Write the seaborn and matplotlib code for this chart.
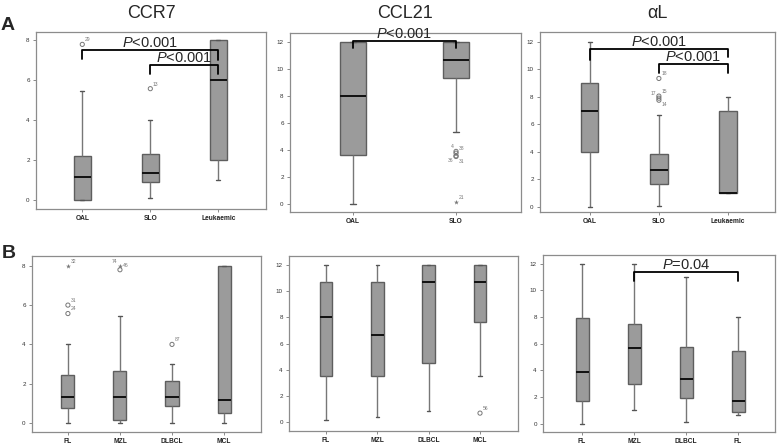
import numpy as np
import pandas as pd
import seaborn as sns
import matplotlib.pyplot as plt

sns.set_style('white')
plt.rcParams['font.family'] = ['Liberation Sans', 'DejaVu Sans']
plt.rcParams['mathtext.fontset'] = 'custom'
plt.rcParams['mathtext.rm'] = 'Liberation Sans'
plt.rcParams['mathtext.it'] = 'Liberation Sans:italic'

# five-number summaries: whisker low, Q1, median, Q3, whisker high
top_cats = ['OAL', 'SLO', 'Leukaemic']
ccr7_top = [[0, 0, 1.13, 2.22, 5.45], [0.12, 0.88, 1.35, 2.3, 4.0], [1.0, 2.0, 6.0, 8.0, 8.0]]
ccl21_cats = ['OAL', 'SLO']
ccl21_top = [[0, 3.6, 8.0, 12, 12], [5.3, 9.33, 10.67, 12, 12]]
al_top = [[0, 4.0, 7.0, 9.0, 12], [0.1, 1.67, 2.67, 3.88, 6.67], [1.0, 1.0, 1.0, 7.0, 8.0]]

bot_cats = ['FL', 'MZL', 'DLBCL', 'MCL']
ccr7_bot = [[0, 0.78, 1.33, 2.42, 4.0], [0, 0.15, 1.33, 2.67, 5.45],
            [0, 0.88, 1.33, 2.12, 3.0], [0, 0.5, 1.15, 8.0, 8.0]]
ccl21_bot = [[0.2, 3.5, 8.0, 10.67, 12], [0.4, 3.5, 6.67, 10.67, 12],
             [0.85, 4.5, 10.67, 12, 12], [3.5, 7.67, 10.67, 12, 12]]
al_cats = ['FL', 'MZL', 'DLBCL', 'FL ']
al_bot = [[0, 1.67, 3.88, 7.9, 12], [1.0, 3.0, 5.67, 7.5, 12],
          [0.1, 1.9, 3.33, 5.75, 11.0], [0.67, 0.9, 1.67, 5.45, 8.0]]

# outliers: (category, value, case label, marker)
ccr7_top_out = [('OAL', 7.8, '29', 'o'), ('SLO', 5.58, '13', 'o')]
ccl21_top_out = [('SLO', 3.88, '4', 'o'), ('SLO', 3.75, '38', 'o'), ('SLO', 3.55, '36', 'o'),
                 ('SLO', 3.5, '31', 'o'), ('SLO', 0.15, '21', '*')]
al_top_out = [('SLO', 9.33, '18', 'o'), ('SLO', 8.05, '15', 'o'), ('SLO', 7.9, '17', 'o'),
              ('SLO', 7.75, '14', 'o')]
ccr7_bot_out = [('FL', 8.0, '32', '*'), ('FL', 6.0, '31', 'o'), ('FL', 5.57, '24', 'o'),
                ('MZL', 8.0, '74', '*'), ('MZL', 7.8, '46', 'o'), ('DLBCL', 4.0, '87', 'o')]
ccl21_bot_out = [('MCL', 0.7, '56', 'o')]
al_bot_out = []

# where the case labels sit relative to their point (category, label)
left_labels = {('SLO', '4'), ('SLO', '36'), ('SLO', '17'), ('MZL', '74')}
below_labels = {('SLO', '36'), ('SLO', '31'), ('SLO', '14')}

# significance brackets: (from, to, height, left drop, right drop, text)
ccr7_top_sig = [('OAL', 'Leukaemic', 7.53, 7.05, 7.0, '$\\mathit{P}$<0.001'),
                ('SLO', 'Leukaemic', 6.75, 6.3, 6.3, '$\\mathit{P}$<0.001')]
ccl21_top_sig = [('OAL', 'SLO', 12.05, 11.55, 11.55, '$\\mathit{P}$<0.001')]
al_top_sig = [('OAL', 'Leukaemic', 11.5, 10.7, 10.9, '$\\mathit{P}$<0.001'),
              ('SLO', 'Leukaemic', 10.36, 9.75, 9.75, '$\\mathit{P}$<0.001')]
al_bot_sig = [('MZL', 'FL ', 11.35, 10.7, 10.7, '$\\mathit{P}$=0.04')]

W, H = 778, 444
fig = plt.figure(figsize=(W / 100, H / 100), dpi=100)


def panel(px, cats, stats, outliers, sigs, ylim, xlim, yticks, xlabels=None, title=None):
    l, r, t, b = px
    ax = fig.add_axes([l / W, 1 - b / H, (r - l) / W, (b - t) / H])
    rows = [(c, v) for c, s in zip(cats, stats) for v in s]
    df = pd.DataFrame(rows, columns=['group', 'value'])
    sns.boxplot(data=df, x='group', y='value', order=cats, ax=ax, whis=(0, 100),
                width=0.25, color='#9b9b9b', saturation=1, linecolor='#5e5e5e',
                linewidth=1.0, showfliers=False,
                medianprops=dict(color='#111111', linewidth=1.4),
                whiskerprops=dict(color='#777777'), capprops=dict(color='#555555'))
    # shorten the whisker caps, as in the reference
    for ln in ax.lines:
        xs, ys = ln.get_xdata(), ln.get_ydata()
        if len(xs) == 2 and ys[0] == ys[1] and ln.get_color() == '#555555':
            xc = (xs[0] + xs[1]) / 2
            half = abs(xs[1] - xs[0]) / 2 * 0.5
            ln.set_xdata([xc - half, xc + half])
    for c, v, lab, m in outliers:
        x = cats.index(c)
        if m == 'o':
            ax.scatter(x, v, s=9, marker='o', facecolors='none', edgecolors='#777777',
                       linewidths=0.7, zorder=4)
        else:
            ax.scatter(x, v, s=14, marker='*', color='#777777', linewidths=0, zorder=4)
        dx = -2 if (c, lab) in left_labels else 2
        dy = -1.5 if (c, lab) in below_labels else 1.5
        ax.annotate(lab, (x, v), xytext=(dx, dy), textcoords='offset points',
                    fontsize=3.6, color='#777777',
                    ha='right' if dx < 0 else 'left',
                    va='top' if dy < 0 else 'bottom')
    for a, bb, h, d1, d2, txt in sigs:
        x1, x2 = cats.index(a), cats.index(bb)
        ax.plot([x1, x1, x2, x2], [d1, h, h, d2], color='black', lw=1.3,
                clip_on=False, zorder=6)
        ax.text((x1 + x2) / 2, h, txt, ha='center', va='bottom', fontsize=10.5,
                clip_on=False, zorder=6)
    ax.set_ylim(*ylim)
    ax.set_xlim(*xlim)
    ax.set_yticks(yticks)
    ax.set_yticklabels([str(v) for v in yticks], fontsize=4.5, color='#333333')
    ax.set_xticks(range(len(cats)))
    ax.set_xticklabels(xlabels or cats, fontsize=4.8, fontweight='bold', color='#222222')
    ax.tick_params(axis='both', length=2.5, width=0.6, color='#777777', pad=2,
                   bottom=True, left=True)
    ax.set_xlabel('')
    ax.set_ylabel('')
    for s in ax.spines.values():
        s.set_color('#8c8c8c')
        s.set_linewidth(0.9)
    if title:
        fig.text((l + r) / 2 / W, 1 - 13 / H, title, ha='center', va='center', fontsize=13)
    return ax


panel((36, 266, 32, 209), top_cats, ccr7_top, ccr7_top_out, ccr7_top_sig,
      (-0.45, 8.42), (-0.68, 2.7), [0, 2, 4, 6, 8], title='CCR7')
panel((290, 521, 33, 212), ccl21_cats, ccl21_top, ccl21_top_out, ccl21_top_sig,
      (-0.62, 12.67), (-0.61, 1.63), [0, 2, 4, 6, 8, 10, 12], title='CCL21')
panel((540, 775, 32, 212), top_cats, al_top, al_top_out, al_top_sig,
      (-0.36, 12.7), (-0.72, 2.68), [0, 2, 4, 6, 8, 10, 12], title='\u03b1L')
panel((32, 261, 256, 432), bot_cats, ccr7_bot, ccr7_bot_out, [],
      (-0.46, 8.5), (-0.69, 3.71), [0, 2, 4, 6, 8])
panel((289, 518, 256, 431), bot_cats, ccl21_bot, ccl21_bot_out, [],
      (-0.66, 12.66), (-0.72, 3.74), [0, 2, 4, 6, 8, 10, 12])
panel((543, 775, 255, 432), al_cats, al_bot, al_bot_out, al_bot_sig,
      (-0.62, 12.65), (-0.75, 3.71), [0, 2, 4, 6, 8, 10, 12],
      xlabels=['FL', 'MZL', 'DLBCL', 'FL'])

fig.text(8 / W, 1 - 25 / H, 'A', fontsize=14, fontweight='bold', ha='center', va='center')
fig.text(9 / W, 1 - 253 / H, 'B', fontsize=14, fontweight='bold', ha='center', va='center')

fig.savefig('out.png', dpi=100)
